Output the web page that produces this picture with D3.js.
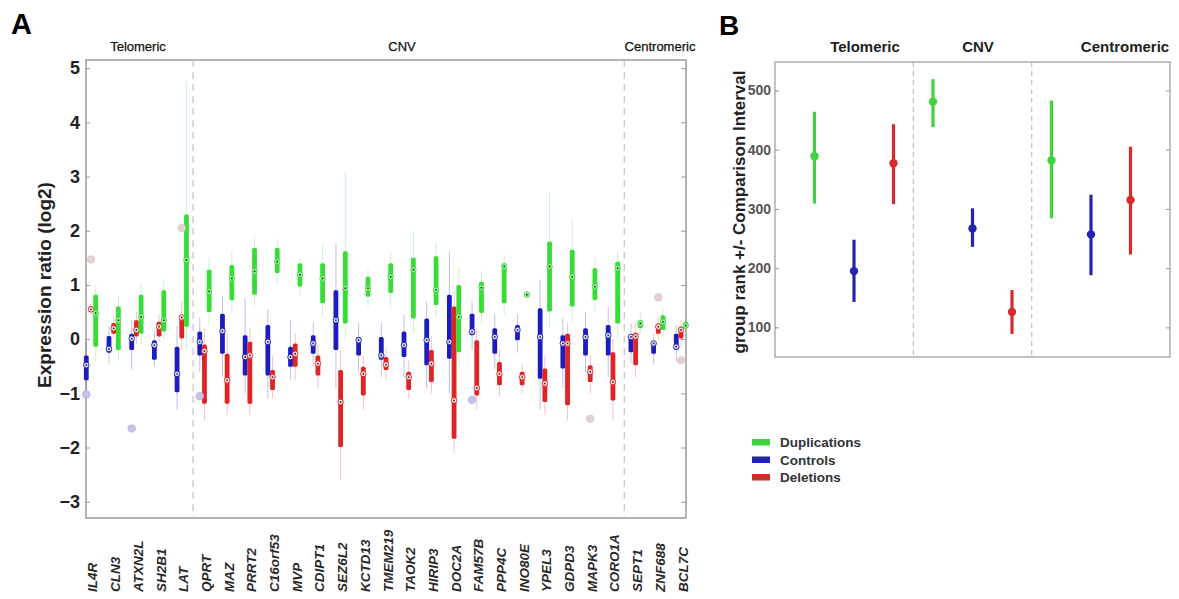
<!DOCTYPE html>
<html>
<head>
<meta charset="utf-8">
<script src="https://cdn.jsdelivr.net/npm/d3@7"></script>
<style>
  body { margin: 0; background: #fff; }
  svg { font-family: "Liberation Sans", Arial, sans-serif; }
</style>
</head>
<body>
<div id="chart"></div>
<script>
// genes along the region, telomeric -> centromeric
var genes = ["IL4R", "CLN3", "ATXN2L", "SH2B1", "LAT", "QPRT", "MAZ", "PRRT2", "C16orf53", "MVP",
  "CDIPT1", "SEZ6L2", "KCTD13", "TMEM219", "TAOK2", "HIRIP3", "DOC2A", "FAM57B", "PPP4C", "INO80E",
  "YPEL3", "GDPD3", "MAPK3", "CORO1A", "SEPT1", "ZNF688", "BCL7C"];

// [whisker low, q1, median, q3, whisker high], log2 ratio
var controls = [
  [-1.1, -0.76, -0.48, -0.3, -0.05], [-0.45, -0.25, -0.18, 0.06, 0.25], [-0.55, -0.2, 0.01, 0.1, 0.35],
  [-0.5, -0.38, -0.11, -0.02, 0.15], [-1.3, -0.98, -0.64, -0.14, 0.25], [-0.6, -0.3, -0.05, 0.14, 0.4],
  [-0.7, -0.27, 0.15, 0.47, 0.8], [-1.0, -0.67, -0.33, 0.07, 0.75], [-1.1, -0.67, -0.05, 0.26, 0.55],
  [-0.75, -0.51, -0.33, -0.14, 0.35], [-0.5, -0.27, -0.08, 0.07, 0.3], [-0.9, -0.2, 0.35, 0.9, 1.77],
  [-0.6, -0.3, -0.02, 0.04, 0.3], [-0.7, -0.38, -0.3, 0.04, 0.3], [-0.7, -0.33, -0.11, 0.14, 0.45],
  [-0.9, -0.48, -0.02, 0.38, 0.7], [-1.0, -0.36, -0.05, 0.82, 1.62], [-0.2, 0.07, 0.14, 0.47, 0.7],
  [-0.55, -0.27, 0.04, 0.2, 0.45], [-0.25, -0.02, 0.17, 0.26, 0.45], [-1.3, -0.73, 0.04, 0.57, 1.1],
  [-0.9, -0.54, -0.08, 0.07, 0.4], [-0.6, -0.3, 0.04, 0.2, 0.5], [-0.7, -0.3, 0.07, 0.26, 0.6],
  [-0.45, -0.24, 0.04, 0.07, 0.3], [-0.45, -0.27, -0.08, -0.05, 0.1], [-0.4, -0.2, -0.14, 0.1, 0.25]
];
var deletions = [
  [0.45, 0.5, 0.55, 0.6, 0.65], [0.0, 0.1, 0.2, 0.3, 0.4], [-0.1, 0.05, 0.17, 0.35, 0.5],
  [-0.05, 0.05, 0.23, 0.32, 0.45], [-0.2, 0.01, 0.4, 0.44, 0.7], [-1.5, -1.19, -0.22, -0.1, 0.2],
  [-1.4, -1.19, -0.76, -0.27, 0.1], [-1.4, -1.19, -0.3, -0.05, 0.2], [-1.1, -0.94, -0.7, -0.57, -0.3],
  [-0.75, -0.51, -0.27, -0.08, 0.1], [-0.9, -0.67, -0.45, -0.3, -0.1], [-2.6, -1.99, -1.16, -0.57, -0.2],
  [-1.3, -1.04, -0.64, -0.51, -0.3], [-0.75, -0.57, -0.47, -0.33, -0.15], [-1.1, -0.94, -0.7, -0.6, -0.4],
  [-1.0, -0.79, -0.45, -0.2, 0.05], [-2.1, -1.84, -1.13, 0.6, 0.9], [-1.3, -1.04, -0.9, -0.02, 0.2],
  [-1.05, -0.85, -0.64, -0.42, -0.2], [-1.0, -0.85, -0.7, -0.6, -0.45], [-1.4, -1.16, -0.82, -0.54, -0.3],
  [-1.5, -1.22, -0.08, 0.1, 0.3], [-1.0, -0.79, -0.6, -0.48, -0.3], [-1.5, -1.13, -0.79, -0.24, 0.0],
  [-0.7, -0.48, 0.05, 0.12, 0.3], [0.0, 0.1, 0.23, 0.29, 0.4], [-0.15, 0.01, 0.17, 0.23, 0.35]
];
var duplications = [
  [-0.4, -0.14, 0.48, 0.82, 1.0], [-0.4, -0.2, 0.35, 0.6, 0.8], [-0.1, 0.1, 0.41, 0.82, 1.0],
  [0.0, 0.14, 0.35, 0.9, 1.1], [-0.2, 0.23, 1.46, 2.3, 4.75], [0.3, 0.5, 0.88, 1.28, 1.5],
  [0.5, 0.72, 1.12, 1.37, 1.6], [0.6, 0.82, 1.25, 1.68, 1.9], [1.0, 1.22, 1.43, 1.68, 1.85],
  [0.8, 0.97, 1.19, 1.4, 1.5], [0.4, 0.66, 1.12, 1.4, 1.75], [0.0, 0.29, 0.94, 1.62, 3.1],
  [0.6, 0.78, 0.94, 1.15, 1.3], [0.6, 0.85, 1.15, 1.4, 1.6], [0.1, 0.38, 1.28, 1.5, 2.0],
  [0.4, 0.63, 0.91, 1.53, 1.8], [-0.5, -0.24, 0.41, 1.0, 1.3], [0.3, 0.48, 0.95, 1.06, 1.25],
  [0.45, 0.66, 1.34, 1.4, 1.55], [0.75, 0.78, 0.82, 0.86, 0.9], [0.2, 0.51, 1.34, 1.8, 2.7],
  [0.3, 0.6, 1.15, 1.65, 2.2], [0.5, 0.72, 0.97, 1.31, 1.5], [0.0, 0.29, 1.31, 1.43, 1.6],
  [0.1, 0.2, 0.29, 0.35, 0.5], [0.05, 0.17, 0.32, 0.44, 0.55], [0.1, 0.2, 0.25, 0.32, 0.4]
];

// outliers: gene, group, value
var outlierGene = ["IL4R", "ATXN2L", "QPRT", "FAM57B", "IL4R", "LAT", "MAPK3", "ZNF688", "BCL7C"];
var outlierGroup = ["controls", "controls", "controls", "controls", "deletions", "deletions", "deletions", "deletions", "deletions"];
var outlierValue = [-1.02, -1.65, -1.05, -1.12, 1.47, 2.05, -1.47, 0.77, -0.39];

var yTicksA = [-3, -2, -1, 0, 1, 2, 3, 4, 5];
var regionsA = ["Telomeric", "CNV", "Centromeric"];

// panel B: group rank +/- comparison interval per region
var regionsB = ["Telomeric", "CNV", "Centromeric"];
var dupRank = [389, 481, 382], dupLo = [309, 438, 284], dupHi = [464, 519, 483];
var ctrlRank = [195, 267, 257], ctrlLo = [143, 236, 188], ctrlHi = [248, 301, 324];
var delRank = [377, 126, 315], delLo = [308, 89, 223], delHi = [443, 163, 405];
var yTicksB = [100, 200, 300, 400, 500];

var legendLabels = ["Duplications", "Controls", "Deletions"];

var colors = { controls: "#1c1cc0", deletions: "#e02424", duplications: "#36dd36" };
var colorsB = { duplications: "#3fd43f", controls: "#2424b4", deletions: "#d82a2a" };

var svg = d3.select("#chart").append("svg")
    .attr("width", 1179)
    .attr("height", 599);

/* ---------- panel A ---------- */
var A = { left: 86, right: 686, top: 60, bottom: 518 };

var x = d3.scalePoint().domain(genes).range([A.left, A.right]).padding(0.22);
var y = d3.scaleLinear().domain([-3.3, 5.15]).range([A.bottom, A.top]);
var offset = { controls: -4.7, deletions: 0, duplications: 4.7 };

svg.append("text").attr("x", 11).attr("y", 34)
    .style("font-size", "29px").style("font-weight", "bold").text("A");

var gA = svg.append("g");

// left axis, ticks pointing in
gA.append("g")
    .attr("transform", "translate(" + A.left + ",0)")
    .call(d3.axisLeft(y).tickValues(yTicksA).tickSize(-4).tickPadding(6).tickFormat(d3.format("d")))
    .call(function(g) {
        g.select(".domain").remove();
        g.selectAll("line").attr("stroke", "#999");
        g.selectAll("text").style("font-size", "18px").style("font-weight", "bold").attr("fill", "#222")
            .text(function(d) { return d < 0 ? "\u2212" + Math.abs(d) : d; });
    });

gA.append("g")
    .attr("transform", "translate(" + A.right + ",0)")
    .call(d3.axisRight(y).tickValues(yTicksA).tickSize(-5).tickFormat(""))
    .call(function(g) {
        g.select(".domain").remove();
        g.selectAll("line").attr("stroke", "#999");
    });

gA.append("rect")
    .attr("x", A.left).attr("y", A.top)
    .attr("width", A.right - A.left).attr("height", A.bottom - A.top)
    .attr("fill", "none").attr("stroke", "#9a9a9a").attr("stroke-width", 1.5);

// region dividers
var splitA = [(x("LAT") + x("QPRT")) / 2, (x("CORO1A") + x("SEPT1")) / 2];
gA.selectAll(".divA")
    .data(splitA)
    .enter().append("line")
    .attr("x1", function(d) { return d; }).attr("x2", function(d) { return d; })
    .attr("y1", A.top).attr("y2", A.bottom)
    .attr("stroke", "#c4c4c4").attr("stroke-width", 1.2).attr("stroke-dasharray", "7,5");

// region titles above panel A
var regionCenterA = [138, 402, 660];
gA.selectAll(".regA")
    .data(regionsA)
    .enter().append("text")
    .attr("x", function(d, i) { return regionCenterA[i]; })
    .attr("y", 51)
    .attr("text-anchor", "middle")
    .style("font-size", "13px")
    .attr("fill", "#111")
    .attr("stroke", "#111").attr("stroke-width", 0.25)
    .text(function(d) { return d; });

// y label
gA.append("text")
    .attr("transform", "translate(51,285) rotate(-90)")
    .attr("text-anchor", "middle")
    .style("font-size", "19px").style("font-weight", "bold").attr("fill", "#222")
    .text("Expression ratio (log2)");

// gene labels
gA.selectAll(".gene")
    .data(genes)
    .enter().append("text")
    .attr("transform", function(d) { return "translate(" + (x(d) + 6.5) + ",592) rotate(-90)"; })
    .style("font-size", "13.5px").style("font-weight", "bold").style("font-style", "italic")
    .attr("fill", "#2a2a2a")
    .text(function(d) { return d; });

// boxes
var series = [
  { key: "controls", values: controls },
  { key: "deletions", values: deletions },
  { key: "duplications", values: duplications }
];

series.forEach(function(s) {
    var grp = gA.append("g").attr("class", s.key);
    var rows = s.values.map(function(v, i) { return { gene: genes[i], v: v }; });
    var cx = function(d) { return x(d.gene) + offset[s.key]; };

    // whiskers
    grp.selectAll(".whisker")
        .data(rows)
        .enter().append("line")
        .attr("x1", cx).attr("x2", cx)
        .attr("y1", function(d) { return y(d.v[0]); })
        .attr("y2", function(d) { return y(d.v[4]); })
        .attr("stroke", colors[s.key]).attr("stroke-opacity", 0.28).attr("stroke-width", 1);

    // box
    grp.selectAll(".box")
        .data(rows)
        .enter().append("rect")
        .attr("x", function(d) { return cx(d) - 2.4; })
        .attr("width", 4.8)
        .attr("y", function(d) { return y(d.v[3]); })
        .attr("height", function(d) { return Math.max(2, y(d.v[1]) - y(d.v[3])); })
        .attr("rx", 1.5)
        .attr("fill", colors[s.key]);

    // median marker
    grp.selectAll(".med")
        .data(rows)
        .enter().append("circle")
        .attr("cx", cx)
        .attr("cy", function(d) { return y(d.v[2]); })
        .attr("r", 2.8)
        .attr("fill", "#fff").attr("fill-opacity", s.key === "duplications" ? 0.5 : 0.85)
        .attr("stroke", colors[s.key]).attr("stroke-width", 0.9);

    grp.selectAll(".meddot")
        .data(rows)
        .enter().append("circle")
        .attr("cx", cx)
        .attr("cy", function(d) { return y(d.v[2]); })
        .attr("r", 0.9)
        .attr("fill", "#222");
});

// outliers
gA.selectAll(".outlier")
    .data(outlierValue)
    .enter().append("circle")
    .attr("cx", function(d, i) { return x(outlierGene[i]) + offset[outlierGroup[i]]; })
    .attr("cy", function(d) { return y(d); })
    .attr("r", 3.8)
    .attr("fill", function(d, i) { return outlierGroup[i] === "controls" ? "#c4c4ea" : "#e4d2d2"; })
    .attr("stroke", function(d, i) { return outlierGroup[i] === "controls" ? "#b4b4e0" : "#dcc6c6"; })
    .attr("stroke-width", 0.8);

/* ---------- panel B ---------- */
var B = { left: 775, right: 1170, top: 62, bottom: 357 };
var xB = d3.scaleLinear().domain([0, 10]).range([B.left, B.right]);
var yB = d3.scaleLinear().domain([50, 548]).range([B.bottom, B.top]);

svg.append("text").attr("x", 719).attr("y", 35)
    .style("font-size", "28px").style("font-weight", "bold").text("B");

var gB = svg.append("g");

gB.append("g")
    .attr("transform", "translate(" + B.left + ",0)")
    .call(d3.axisLeft(yB).tickValues(yTicksB).tickSize(-4).tickPadding(4))
    .call(function(g) {
        g.select(".domain").remove();
        g.selectAll("line").attr("stroke", "#999");
        g.selectAll("text").style("font-size", "14px").style("font-weight", "bold").attr("fill", "#555");
    });

gB.append("g")
    .attr("transform", "translate(" + B.right + ",0)")
    .call(d3.axisRight(yB).tickValues(yTicksB).tickSize(-4).tickFormat(""))
    .call(function(g) {
        g.select(".domain").remove();
        g.selectAll("line").attr("stroke", "#999");
    });

gB.append("rect")
    .attr("x", B.left).attr("y", B.top)
    .attr("width", B.right - B.left).attr("height", B.bottom - B.top)
    .attr("fill", "none").attr("stroke", "#a0a0a0").attr("stroke-width", 1.3);

gB.selectAll(".divB")
    .data([3.5, 6.5])
    .enter().append("line")
    .attr("x1", function(d) { return xB(d); }).attr("x2", function(d) { return xB(d); })
    .attr("y1", B.top).attr("y2", B.bottom)
    .attr("stroke", "#c8a8a8").attr("stroke-width", 1).attr("stroke-dasharray", "5,4");

var regionCenterB = [865, 978, 1125];
gB.selectAll(".regB")
    .data(regionsB)
    .enter().append("text")
    .attr("x", function(d, i) { return regionCenterB[i]; })
    .attr("y", 52)
    .attr("text-anchor", "middle")
    .style("font-size", "15px").style("font-weight", "bold").attr("fill", "#222")
    .text(function(d) { return d; });

gB.append("text")
    .attr("transform", "translate(745,212) rotate(-90)")
    .attr("text-anchor", "middle")
    .style("font-size", "17px").style("font-weight", "bold").attr("fill", "#222")
    .text("group rank +/- Comparison Interval");

var seriesB = [
  { key: "duplications", rank: dupRank, lo: dupLo, hi: dupHi },
  { key: "controls", rank: ctrlRank, lo: ctrlLo, hi: ctrlHi },
  { key: "deletions", rank: delRank, lo: delLo, hi: delHi }
];

seriesB.forEach(function(s, si) {
    var pts = s.rank.map(function(r, ri) {
        return { pos: ri * 3 + si + 1, rank: r, lo: s.lo[ri], hi: s.hi[ri] };
    });
    gB.selectAll(".ci-" + s.key)
        .data(pts)
        .enter().append("line")
        .attr("x1", function(d) { return xB(d.pos); }).attr("x2", function(d) { return xB(d.pos); })
        .attr("y1", function(d) { return yB(d.lo); }).attr("y2", function(d) { return yB(d.hi); })
        .attr("stroke", colorsB[s.key]).attr("stroke-width", 3.2);
    gB.selectAll(".pt-" + s.key)
        .data(pts)
        .enter().append("circle")
        .attr("cx", function(d) { return xB(d.pos); })
        .attr("cy", function(d) { return yB(d.rank); })
        .attr("r", 4.2)
        .attr("fill", colorsB[s.key]);
});

// legend
var legend = svg.append("g").attr("transform", "translate(752,442)");
var legendKeys = ["duplications", "controls", "deletions"];
legend.selectAll("rect")
    .data(legendLabels)
    .enter().append("rect")
    .attr("x", 0).attr("y", function(d, i) { return i * 17.5 - 3; })
    .attr("width", 18).attr("height", 6.5)
    .attr("fill", function(d, i) { return colorsB[legendKeys[i]]; });
legend.selectAll("text")
    .data(legendLabels)
    .enter().append("text")
    .attr("x", 28).attr("y", function(d, i) { return i * 17.5 + 5; })
    .style("font-size", "13.5px").style("font-weight", "bold").attr("fill", "#333")
    .text(function(d) { return d; });
</script>
</body>
</html>
